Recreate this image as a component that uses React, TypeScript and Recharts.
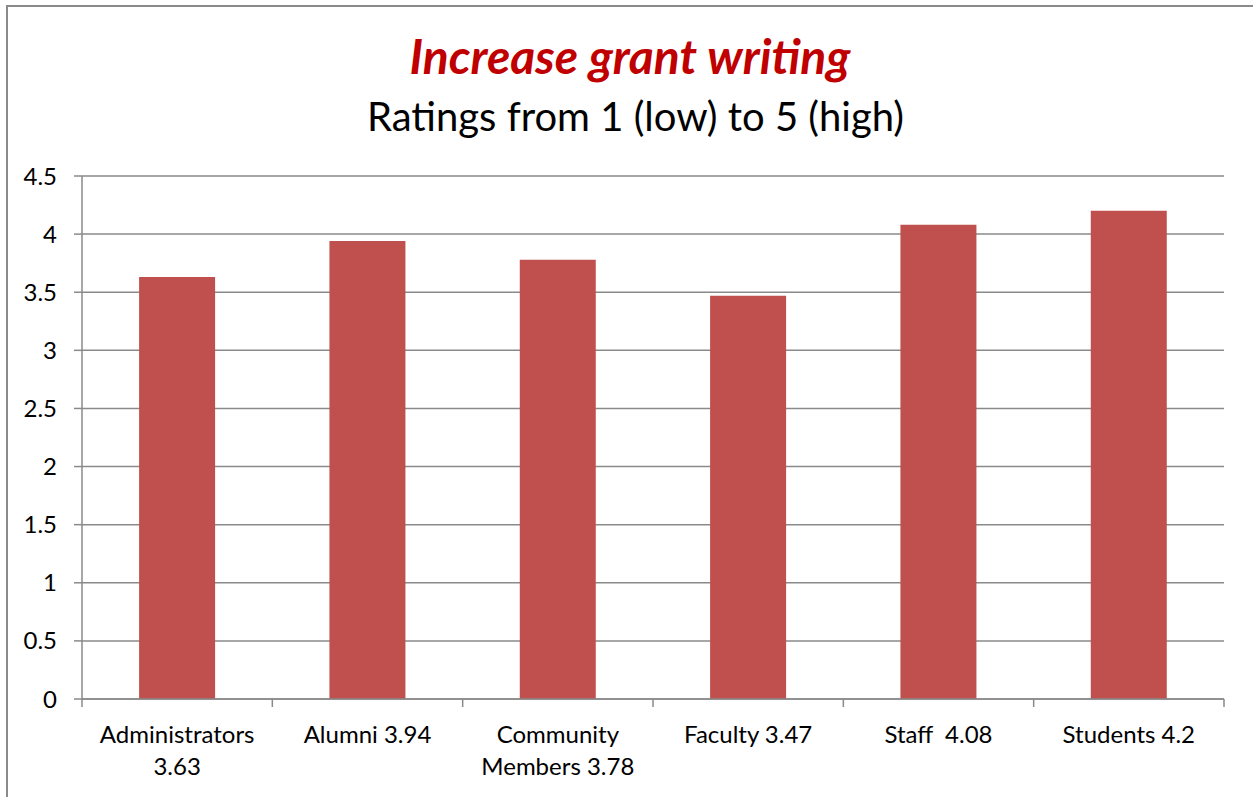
import React from "react";
import { BarChart, Bar, XAxis, YAxis, CartesianGrid } from "recharts";

const categories = [
  "Administrators\n3.63",
  "Alumni 3.94",
  "Community\nMembers 3.78",
  "Faculty 3.47",
  "Staff  4.08",
  "Students 4.2",
];
const ratings = [3.63, 3.94, 3.78, 3.47, 4.08, 4.2];
const yTicks = [0, 0.5, 1, 1.5, 2, 2.5, 3, 3.5, 4, 4.5];

const data = categories.map((name, i) => ({ name, value: ratings[i] }));

const W = 1253;
const H = 797;
const MARGIN = { top: 176, right: 29, bottom: 0, left: 0 };
const X_HEIGHT = 98;
const Y_WIDTH = 82;
const STEP = (W - MARGIN.left - MARGIN.right - Y_WIDTH) / categories.length;
const GRID = "#8a8a8a";
const FONT = "Lato, 'Open Sans', sans-serif";

const CategoryTick = (props: any) => {
  const { x, y, payload, index } = props;
  const lines = String(payload.value).split("\n");
  const last = index === categories.length - 1;
  return (
    <g>
      <line x1={x - STEP / 2} x2={x - STEP / 2} y1={y - 8} y2={y} stroke={GRID} strokeWidth={1.5} />
      {last && (
        <line x1={x + STEP / 2} x2={x + STEP / 2} y1={y - 8} y2={y} stroke={GRID} strokeWidth={1.5} />
      )}
      <text x={x} y={y + 36} textAnchor="middle" fill="#000" fontSize={24} fontFamily={FONT}>
        {lines.map((l, i) => (
          <tspan key={i} x={x} dy={i === 0 ? 0 : 32} style={{ whiteSpace: "pre" }}>
            {l}
          </tspan>
        ))}
      </text>
    </g>
  );
};

export default function App() {
  return (
    <div style={{ position: "absolute", left: 0, top: 0, width: W, height: H, background: "#fff", overflow: "hidden" }}>
      <div
        style={{
          position: "absolute",
          left: 6,
          top: 5,
          width: W + 10,
          height: H + 10,
          border: "2px solid #8a8a8a",
          boxSizing: "border-box",
        }}
      />
      <div
        style={{
          position: "absolute",
          left: 0,
          width: 1260,
          top: 31,
          textAlign: "center",
          fontFamily: FONT,
          fontWeight: 700,
          fontStyle: "italic",
          fontSize: 48,
          color: "#C00000",
          lineHeight: "50px",
          whiteSpace: "nowrap",
        }}
      >
        Increase grant writing
      </div>
      <div
        style={{
          position: "absolute",
          left: 0,
          width: 1271,
          top: 91,
          textAlign: "center",
          fontFamily: FONT,
          fontSize: 40,
          color: "#000",
          lineHeight: "50px",
          whiteSpace: "nowrap",
        }}
      >
        Ratings from 1 (low) to 5 (high)
      </div>
      <div style={{ position: "absolute", left: 0, top: 0 }}>
        <BarChart width={W} height={H} data={data} margin={MARGIN} barCategoryGap="30%">
          <CartesianGrid vertical={false} stroke={GRID} strokeWidth={1.5} />
          <XAxis
            dataKey="name"
            interval={0}
            axisLine={{ stroke: GRID, strokeWidth: 1.5 }}
            tickLine={false}
            tickSize={8}
            tickMargin={0}
            tick={<CategoryTick />}
            height={X_HEIGHT}
          />
          <YAxis
            domain={[0, 4.5]}
            ticks={yTicks}
            width={Y_WIDTH}
            axisLine={{ stroke: GRID, strokeWidth: 1.5 }}
            tickLine={{ stroke: GRID, strokeWidth: 1.5 }}
            tickSize={8}
            tickMargin={17}
            tick={{ fill: "#000", fontSize: 24, fontFamily: FONT }}
          />
          <Bar dataKey="value" fill="#C0504D" isAnimationActive={false} />
        </BarChart>
      </div>
    </div>
  );
}
